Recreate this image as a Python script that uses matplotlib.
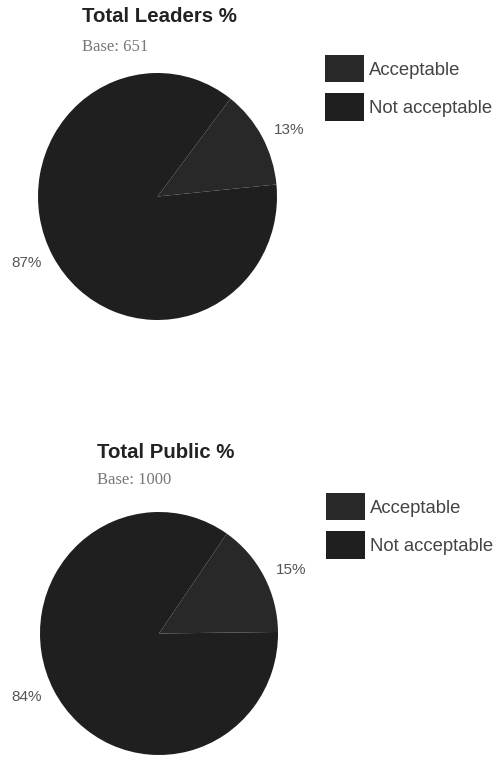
import matplotlib
matplotlib.use("Agg")
import matplotlib.pyplot as plt

W, H = 501, 757

categories = ["Acceptable", "Not acceptable"]
leaders_values = [13, 87]
public_values = [15, 84]
leaders_labels = ["13%", "87%"]
public_labels = ["15%", "84%"]
titles = ["Total Leaders %", "Total Public %"]
bases = ["Base: 651", "Base: 1000"]

colors = ["#282828", "#1f1f1f"]

fig = plt.figure(figsize=(W / 100, H / 100), dpi=100)
fig.patch.set_facecolor("white")


def fx(px):
    return px / W


def fy(py):
    return 1 - py / H


def draw(values, labels, cx, cy, rx, ry, startangle, title, base, tx, ty, by, lx, ly):
    ax = fig.add_axes([fx(cx - rx), fy(cy + ry), 2 * rx / W, 2 * ry / H])
    wedges, texts = ax.pie(values, labels=labels, colors=colors, startangle=startangle,
                           counterclock=False, labeldistance=1.11,
                           wedgeprops=dict(linewidth=0),
                           textprops=dict(fontsize=11, color="#555555",
                                          family=["Liberation Sans", "DejaVu Sans"]))
    ax.set_xlim(-1, 1)
    ax.set_ylim(-1, 1)
    ax.set_aspect("auto")
    for t in texts:
        t.set_clip_on(False)
    fig.text(fx(tx), fy(ty), title, fontsize=14.7, fontweight="bold", color="#222222",
             family=["Liberation Sans", "DejaVu Sans"], va="center", ha="left")
    fig.text(fx(tx), fy(by), base, fontsize=12, color="#777777",
             family=["Liberation Serif", "DejaVu Serif"], va="center", ha="left")
    fig.legend(wedges, categories, loc="upper left", bbox_to_anchor=(fx(lx), fy(ly)),
               frameon=False, borderpad=0, borderaxespad=0,
               handlelength=2.1, handleheight=1.9, handletextpad=0.3,
               labelspacing=0.6, labelcolor="#444444",
               prop=dict(family=["Liberation Sans", "DejaVu Sans"], size=13.3))


draw(leaders_values, leaders_labels, 157.5, 196.5, 119.5, 123.5, 29 + 13 / 100 * 180,
     titles[0], bases[0], 82, 17, 47, 325, 55)
draw(public_values, public_labels, 159, 633.5, 119, 121.5, 28 + 15 / 99 * 180,
     titles[1], bases[1], 97, 453, 480, 326, 493)

fig.savefig("out.png", dpi=100, facecolor="white")
